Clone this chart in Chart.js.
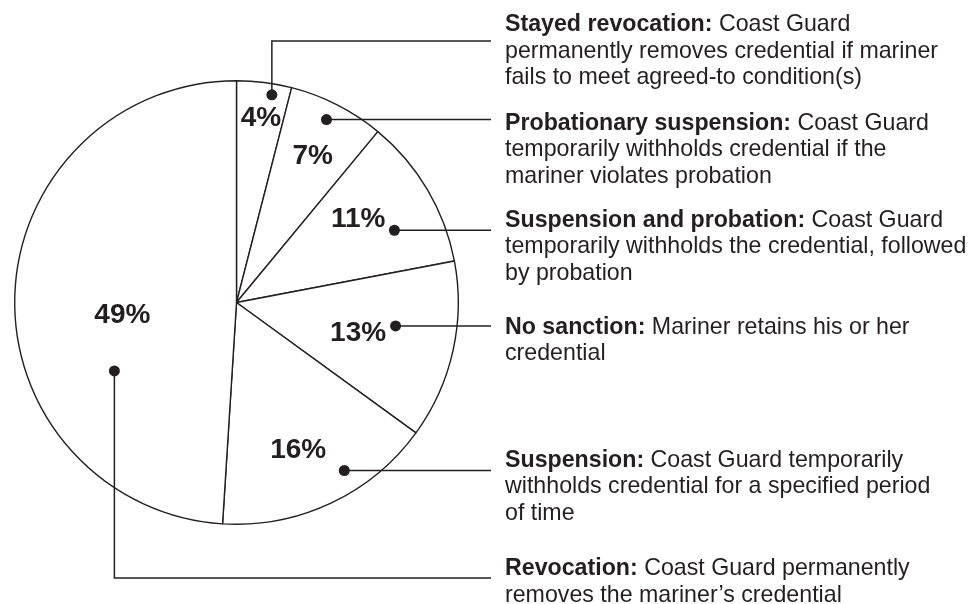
<!DOCTYPE html>
<html>
<head>
<meta charset="utf-8">
<script src="https://cdn.jsdelivr.net/npm/chart.js@4.4.1/dist/chart.umd.min.js"></script>
<style>
  html, body { margin: 0; padding: 0; background: #ffffff; }
  #wrap { width: 972px; height: 604px; position: relative; }
</style>
</head>
<body>
<div id="wrap"><canvas id="c" width="972" height="604"></canvas></div>
<script>
// ---- data ----
const categories = [
  "Stayed revocation",
  "Probationary suspension",
  "Suspension and probation",
  "No sanction",
  "Suspension",
  "Revocation"
];
const shares = [4, 7, 11, 13, 16, 49];
const pctLabels = ["4%", "7%", "11%", "13%", "16%", "49%"];
const descriptions = [
  [" Coast Guard", "permanently removes credential if mariner", "fails to meet agreed-to condition(s)"],
  [" Coast Guard", "temporarily withholds credential if the", "mariner violates probation"],
  [" Coast Guard", "temporarily withholds the credential, followed", "by probation"],
  [" Mariner retains his or her", "credential"],
  [" Coast Guard temporarily", "withholds credential for a specified period", "of time"],
  [" Coast Guard permanently", "removes the mariner\u2019s credential"]
];

// ---- annotation placement (styling / layout only) ----
const INK = "#231f20";
const annotLayout = [
  { label: { t: 0.55,  r: 0.802 }, dot: { t: 0.671, r: 0.95  }, textY: 31,    bendY: 41 },
  { label: { t: 0.575, r: 0.711 }, dot: { t: 0.468, r: 0.919 }, textY: 129.5 },
  { label: { t: 0.471, r: 0.645 }, dot: { t: 0.652, r: 0.783 }, textY: 226.5 },
  { label: { t: 0.605, r: 0.575 }, dot: { t: 0.41,  r: 0.725 }, textY: 333.5 },
  { label: { t: 0.5625,r: 0.756 }, dot: { t: 0.37,  r: 0.9   }, textY: 466.7 },
  { label: { t: 0.431, r: 0.523 }, dot: { t: 0.324, r: 0.631 }, textY: 575,   bendY: 578 }
];
const TEXT_X = 505;
const LEADER_END_X = 491;
const LINE_H = 26.6;
const BODY_SIZE = 23.2;
const PCT_SIZE = 28;
const FONT = '"Liberation Sans", Arial, Helvetica, sans-serif';

const annotPlugin = {
  id: 'annot',
  afterDraw(chart) {
    const ctx = chart.ctx;
    const meta = chart.getDatasetMeta(0);
    ctx.save();
    meta.data.forEach((arc, i) => {
      const p = arc.getProps(['x', 'y', 'startAngle', 'endAngle', 'outerRadius'], true);
      const pos = (t, r) => {
        const a = p.startAngle + t * (p.endAngle - p.startAngle);
        return [p.x + Math.cos(a) * p.outerRadius * r, p.y + Math.sin(a) * p.outerRadius * r];
      };
      const L = annotLayout[i];

      // percentage label
      const [lx, ly] = pos(L.label.t, L.label.r);
      ctx.fillStyle = INK;
      ctx.font = 'bold ' + PCT_SIZE + 'px ' + FONT;
      ctx.textAlign = 'center';
      ctx.textBaseline = 'alphabetic';
      ctx.fillText(pctLabels[i], lx, ly);

      // dot + leader
      const [dx, dy] = pos(L.dot.t, L.dot.r);
      ctx.strokeStyle = INK;
      ctx.lineWidth = 1.5;
      ctx.beginPath();
      ctx.moveTo(dx, dy);
      if (L.bendY !== undefined) {
        ctx.lineTo(dx, L.bendY);
        ctx.lineTo(LEADER_END_X, L.bendY);
      } else {
        ctx.lineTo(LEADER_END_X, dy);
      }
      ctx.stroke();
      ctx.beginPath();
      ctx.arc(dx, dy, 5.5, 0, Math.PI * 2);
      ctx.fill();

      // description text
      ctx.textAlign = 'left';
      const lines = descriptions[i];
      lines.forEach((line, k) => {
        const y = L.textY + k * LINE_H;
        let x = TEXT_X;
        if (k === 0) {
          const title = categories[i] + ':';
          ctx.font = 'bold ' + BODY_SIZE + 'px ' + FONT;
          ctx.fillText(title, x, y);
          x += ctx.measureText(title).width;
        }
        ctx.font = BODY_SIZE + 'px ' + FONT;
        ctx.fillText(line, x, y);
      });
    });
    ctx.restore();
  }
};

new Chart(document.getElementById('c'), {
  type: 'pie',
  data: {
    labels: categories,
    datasets: [{
      data: shares,
      backgroundColor: '#ffffff',
      borderColor: INK,
      borderWidth: 1.4,
      hoverOffset: 0
    }]
  },
  options: {
    responsive: false,
    animation: false,
    devicePixelRatio: 1,
    layout: { padding: { left: 14, top: 80, right: 513, bottom: 79 } },
    plugins: {
      legend: { display: false },
      tooltip: { enabled: false }
    },
    events: []
  },
  plugins: [annotPlugin]
});
</script>
</body>
</html>
